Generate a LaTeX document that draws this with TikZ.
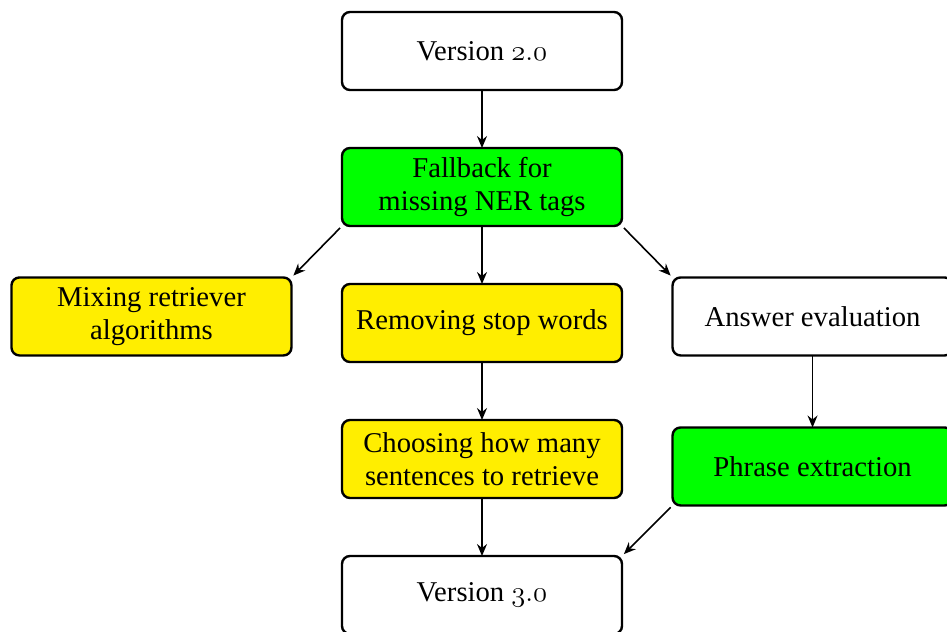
\RequirePackage{fix-cm}
\documentclass[tikz,border=0pt]{standalone}
\usepackage{fontspec}
\setmainfont{Liberation Serif}
\usepackage{xcolor}
\usepackage{tikz}
\usetikzlibrary{arrows.meta,positioning}

\definecolor{boxgreen}{RGB}{0,255,0}
\definecolor{boxyellow}{RGB}{255,238,0}
\newcommand{\oldnum}[1]{$\mathnormal{#1}$}

\begin{document}
\begin{tikzpicture}[
  x=0.75pt, y=-0.75pt,
  blk/.style={draw, line width=1.8pt, rounded corners=6pt, minimum width=210pt, minimum height=58.5pt, outer sep=0pt, align=center, inner sep=2pt, font=\fontsize{21.5}{24.75}\selectfont},
  done/.style={blk, fill=boxgreen},
  todo/.style={blk, fill=boxyellow},
  arr/.style={-{Stealth[length=9pt, width=7.5pt, inset=3pt]}, line width=1.2pt},
  diag/.style={arr, shorten <=2pt, shorten >=2pt}
]
\useasboundingbox (0,0) rectangle (947,632);

\node[blk] (v2) at (482,51) {Version \oldnum{2.0}};
\node[done, below=43.5pt of v2] (fallback) {Fallback for\\missing NER tags};
\node[todo, below=43.5pt of fallback] (stopw) {Removing stop words};
\node[todo, left=37.9pt of stopw, yshift=4.9pt] (mixing) {Mixing retriever\\algorithms};
\node[blk, right=37.9pt of stopw, yshift=4.9pt] (answer) {Answer evaluation};
\node[todo, below=43.5pt of stopw] (choose) {Choosing how many\\sentences to retrieve};
\node[done, below=54pt of answer] (phrase) {Phrase extraction};
\node[blk, below=43.5pt of choose] (v3) {Version \oldnum{3.0}};

\draw[arr] (v2) -- (fallback);
\draw[arr] (fallback) -- (stopw);
\draw[diag] (fallback.south west) -- (mixing.north east);
\draw[diag] (fallback.south east) -- (answer.north west);
\draw[arr] (stopw) -- (choose);
\draw[arr] (answer) -- (phrase);
\draw[arr] (choose) -- (v3);
\draw[diag] (phrase.south west) -- (v3.north east);
\end{tikzpicture}
\end{document}
